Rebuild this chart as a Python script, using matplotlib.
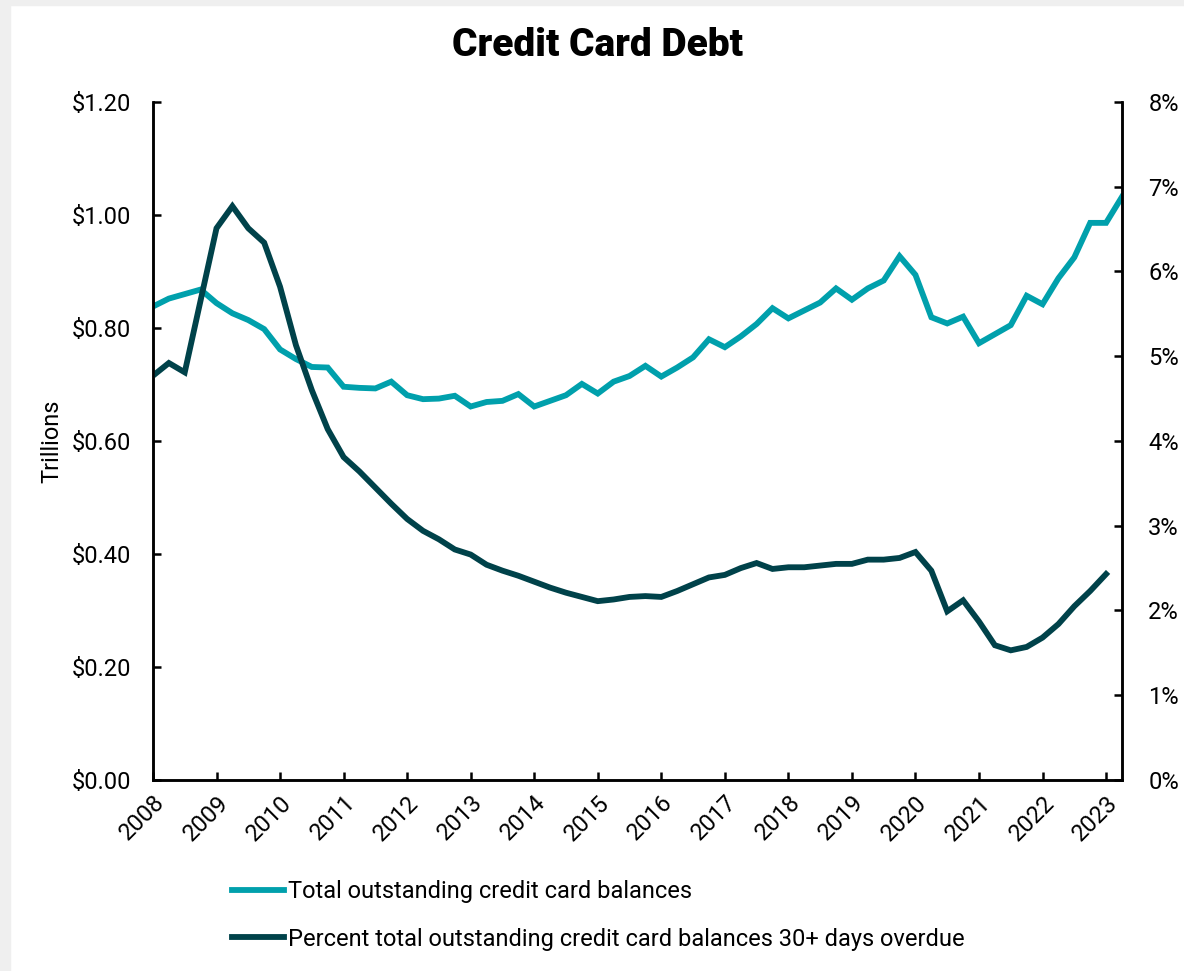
import numpy as np
import matplotlib.pyplot as plt
from matplotlib.patches import Rectangle

plt.rcParams["font.family"] = ["Roboto", "DejaVu Sans"]

# quarterly, 2008 Q1 .. 2023 Q2
years = list(range(2008, 2024))
balances = [
    0.838, 0.852, 0.860, 0.868, 0.844, 0.826, 0.814, 0.798,
    0.762, 0.745, 0.731, 0.730, 0.696, 0.694, 0.693, 0.705,
    0.681, 0.674, 0.675, 0.680, 0.661, 0.669, 0.671, 0.683,
    0.661, 0.671, 0.681, 0.701, 0.684, 0.705, 0.715, 0.733,
    0.714, 0.730, 0.748, 0.780, 0.766, 0.785, 0.807, 0.835,
    0.817, 0.831, 0.845, 0.870, 0.850, 0.870, 0.884, 0.927,
    0.894, 0.819, 0.808, 0.820, 0.773, 0.789, 0.805, 0.857,
    0.842, 0.888, 0.925, 0.986, 0.986, 1.032,
]
overdue_pct = [
    4.77, 4.92, 4.81, 5.66, 6.51, 6.77, 6.51, 6.34,
    5.82, 5.13, 4.60, 4.14, 3.81, 3.64, 3.45, 3.26,
    3.08, 2.94, 2.84, 2.72, 2.66, 2.54, 2.47, 2.41,
    2.34, 2.27, 2.21, 2.16, 2.11, 2.13, 2.16, 2.17,
    2.16, 2.23, 2.31, 2.39, 2.42, 2.50, 2.56, 2.49,
    2.51, 2.51, 2.53, 2.55, 2.55, 2.60, 2.60, 2.62,
    2.69, 2.47, 1.99, 2.12, 1.87, 1.59, 1.53, 1.57,
    1.68, 1.84, 2.05, 2.23, 2.43,
]

teal = "#00a0ac"
dark = "#00424a"
fs = 17

fig = plt.figure(figsize=(11.84, 9.71), dpi=100)
ax = fig.add_axes([0.1292, 0.1967, 0.8184, 0.6983])
ax2 = ax.twinx()

x1 = np.arange(len(balances))
x2 = np.arange(len(overdue_pct))
l1, = ax.plot(x1, balances, color=teal, lw=4.2, solid_joinstyle="miter",
              label="Total outstanding credit card balances")
l2, = ax2.plot(x2, overdue_pct, color=dark, lw=4.2, solid_joinstyle="miter",
               label="Percent total outstanding credit card balances 30+ days overdue")

ax.set_xlim(0, len(balances) - 1)
ax.set_ylim(0, 1.2)
ax2.set_ylim(0, 8)

ax.set_yticks(np.arange(0, 1.21, 0.2))
ax.set_yticklabels([f"${v:.2f}" for v in np.arange(0, 1.21, 0.2)])
ax2.set_yticks(range(0, 9))
ax2.set_yticklabels([f"{v}%" for v in range(0, 9)])
ax.set_xticks(np.arange(0, 4 * len(years), 4))
ax.set_xticklabels([str(y) for y in years], rotation=45, ha="right",
                   rotation_mode="anchor")

for a in (ax, ax2):
    for s in a.spines.values():
        s.set_linewidth(1.8)
    a.spines["top"].set_visible(False)
    a.tick_params(direction="in", length=6, width=1.8, labelsize=fs)
ax.tick_params(axis="y", pad=16)
ax2.tick_params(axis="y", pad=19)
ax.tick_params(axis="x", pad=8)

ax.set_ylabel("Trillions", fontsize=fs, labelpad=6)
fig.text(0.505, 0.953, "Credit Card Debt", fontsize=28, fontweight="black",
         ha="center", va="center")

fig.legend(handles=[l1, l2], loc="upper left", bbox_to_anchor=(0.188, 0.103),
           frameon=False, fontsize=fs, handlelength=2.2, handletextpad=0.15,
           labelspacing=1.03, borderaxespad=0)

# light grey frame at the left and top edges
fig.patches.append(Rectangle((0, 0), 10 / 1184, 1, transform=fig.transFigure,
                             color="#efefef", zorder=-1))
fig.patches.append(Rectangle((0, 1 - 5 / 971), 1, 5 / 971, transform=fig.transFigure,
                             color="#efefef", zorder=-1))

fig.savefig("out.png", dpi=100)
